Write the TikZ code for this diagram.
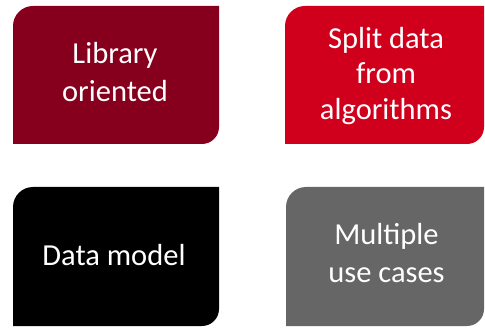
\documentclass[tikz,border=0pt]{standalone}
\usepackage{fontspec}
\setmainfont{Carlito}
\definecolor{wine}{RGB}{134,0,30}
\definecolor{signalred}{RGB}{208,0,28}
\definecolor{slate}{RGB}{102,102,102}
\tikzset{
  tiletext/.style={text=white, align=center, inner sep=0pt,
    font=\fontsize{30.5}{38}\selectfont},
  tightlines/.style={font=\fontsize{30.5}{35.5}\selectfont}
}
% tile with a rounded top-left and bottom-right corner
% #1 left, #2 top, #3 right, #4 bottom, #5 colour
\newcommand{\leaftile}[5]{%
  \fill[#5] (#1,#4) -- (#1,#2-20) arc[start angle=180, end angle=90, radius=20]
    -- (#3,#2) -- (#3,#4+17) arc[start angle=0, end angle=-90, radius=17] -- cycle;
}
\begin{document}
\begin{tikzpicture}[x=1pt, y=1pt]
  \useasboundingbox (0,0) rectangle (485,327);
  \leaftile{13}{321}{219}{183}{wine}
  \leaftile{285}{321}{484}{183}{signalred}
  \leaftile{13}{140}{219}{1}{black}
  \leaftile{286}{140}{484}{1}{slate}
  \node[tiletext] (lib) at (115,255) {Library\\oriented};
  \node[tiletext, tightlines] (split) at (386,251) {Split data\\from\\algorithms};
  \node[tiletext] (model) at (114,71.5) {Data model};
  \node[tiletext] (uses) at (386.5,73.5) {Multiple\\use cases};
\end{tikzpicture}
\end{document}
